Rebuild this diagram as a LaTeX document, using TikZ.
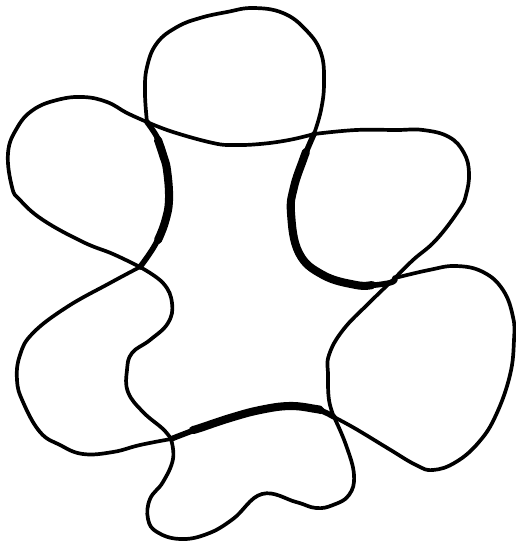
\documentclass[tikz,border=0pt]{standalone}
\begin{document}
\begin{tikzpicture}[x=0.02cm, y=-0.02cm, line cap=round, line join=round,
  rim/.style={line width=2.1pt},
  mid/.style={line width=3.2pt},
  heavy/.style={line width=4.6pt},
  curve/.style={smooth, tension=0.7}]
  \useasboundingbox (0,0) rectangle (516,542);
  % crossing points
  \coordinate (tl) at (147,122);
  \coordinate (tr) at (314,134);
  \coordinate (ml) at (140,267);
  \coordinate (mr) at (395,278);
  \coordinate (bl) at (171,439);
  \coordinate (br) at (334,417);
  % top petal
  \draw[rim] plot[curve] coordinates {(tl) (145,93) (147,67) (157,43) (177,27) (200,18) (227,12) (253,8) (283,13) (306,30) (321,53) (324,83) (321,110) (tr)};
  \draw[rim] plot[curve] coordinates {(tr) (289,140) (260,144) (233,145) (213,143) (173,132) (tl)};
  % left petal
  \draw[rim] plot[curve] coordinates {(tl) (127,113) (107,102) (83,97) (57,100) (33,110) (17,128) (8,153) (12,187) (20,200) (43,220) (83,242) (113,254) (ml)};
  \draw[mid] plot[curve] coordinates {(tl) (160,143) (167,170) (169,200) (165,222) (155,245) (ml)};
  \draw[heavy] plot[curve] coordinates {(158,140) (163,155) (167,170) (169,200) (165,222) (158,240)};
  % right petal
  \draw[rim] plot[curve] coordinates {(tr) (356,130) (396,130) (423,130) (449,137) (464,153) (469,173) (466,195) (459,210) (436,240) (413,260) (mr)};
  \draw[mid] plot[curve] coordinates {(mr) (389,283) (356,285) (323,275) (299,253) (291,213) (294,187) (303,160) (tr)};
  \draw[heavy] plot[curve] coordinates {(372,285) (356,285) (323,275) (299,253) (291,213) (294,187) (303,160) (306,152)};
  % lower right petal
  \draw[rim] plot[curve] coordinates {(mr) (429,270) (456,266) (483,272) (503,290) (513,317) (514,340) (510,375) (496,415) (479,442) (456,462) (433,470) (416,465) (389,449) (356,429) (br)};
  \draw[rim] plot[curve] coordinates {(br) (329,400) (328,375) (329,355) (343,330) (369,303) (mr)};
  % bottom petal
  \draw[mid] plot[curve] coordinates {(br) (316,409) (290,406) (260,410) (230,418) (200,428) (bl)};
  \draw[heavy] plot[curve] coordinates {(320,410) (316,409) (290,406) (260,410) (230,418) (200,428) (193,430)};
  \draw[rim] plot[curve] coordinates {(bl) (173,459) (163,482) (150,499) (148,519) (157,532) (180,539) (207,534) (233,519) (262,494) (296,502) (316,508) (333,505) (349,495) (354,475) (346,445) (br)};
  % lower left petal
  \draw[rim] plot[curve] coordinates {(bl) (140,445) (113,452) (83,454) (60,445) (40,432) (23,402) (17,380) (20,355) (33,333) (67,307) (110,283) (ml)};
  \draw[rim] plot[curve] coordinates {(ml) (163,283) (172,303) (168,323) (150,340) (132,353) (127,370) (128,392) (143,412) (163,429) (bl)};
\end{tikzpicture}
\end{document}
